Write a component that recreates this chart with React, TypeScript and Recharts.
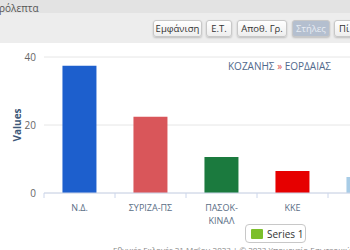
import React from 'react';
import { BarChart, Bar, XAxis, YAxis, CartesianGrid, Cell } from 'recharts';

// party results, Εορδαία
const parties = ['Ν.Δ.', 'ΣΥΡΙΖΑ-ΠΣ', 'ΠΑΣΟΚ-ΚΙΝΑΛ', 'ΚΚΕ', 'ΝΙΚΗ'];
const percents = [37.4, 22.4, 10.6, 6.5, 4.7];
const barColors = ['#1d5fcd', '#d9565a', '#1b7a3e', '#e60000', '#a8cce6'];
const yTicks = [0, 20, 40];
const buttons = ['Εμφάνιση', 'Ε.Τ.', 'Αποθ. Γρ.', 'Στήλες', 'Πί'];

const data = parties.map((name, i) => ({ name, value: percents[i] }));

const FONT = '"Open Sans", "DejaVu Sans", sans-serif';
const buttonLefts = [153, 206, 237, 292, 334];
const buttonWidths = [49, 26, 50, 38, 30];

const PartyTick = (props: any) => {
    const { x, y, payload } = props;
    const label: string = payload.value;
    const lines = label.length > 9 && label.includes('-')
        ? [label.slice(0, label.indexOf('-') + 1), label.slice(label.indexOf('-') + 1)]
        : [label];
    const half = payload.offset || 0;
    return (
        <g>
            <line x1={x - half} x2={x - half} y1={y - 8} y2={y - 3} stroke="#ccd6eb" />
            <text x={x} y={y} textAnchor="middle" fill="#5a6e86" fontSize={9} fontFamily={FONT}>
                {lines.map((l, i) => (
                    <tspan key={i} x={x} dy={i === 0 ? 10 : 13}>{l}</tspan>
                ))}
            </text>
        </g>
    );
};

const ValuesLabel = (props: any) => {
    const vb = props.viewBox || { x: 0, y: 0, height: 0 };
    const cx = vb.x + 17;
    const cy = vb.y + vb.height / 2;
    return (
        <text x={cx} y={cy} transform={`rotate(-90, ${cx}, ${cy})`} textAnchor="middle"
            dominantBaseline="central" fill="#3e5878" fontSize={10} fontWeight="bold" fontFamily={FONT}>
            Values
        </text>
    );
};

const App: React.FC = () => {
    return (
        <div style={{ position: 'absolute', left: 0, top: 0, width: 350, height: 250, overflow: 'hidden', background: '#fff', fontFamily: FONT }}>
            <div style={{ position: 'absolute', left: 0, top: 0, width: 350, height: 13, background: '#e3e3e3' }} />
            <div style={{ position: 'absolute', left: 0, top: 13, width: 350, height: 30, background: '#ededed' }} />
            <div style={{ position: 'absolute', left: -1, top: 1, fontSize: 10, color: '#555' }}>ρόλεπτα</div>
            {buttons.map((b, i) => (
                <div key={b} style={{
                    position: 'absolute', left: buttonLefts[i], top: 20, width: buttonWidths[i], height: 17,
                    boxSizing: 'border-box', border: '1px solid #c8c8c8', borderRadius: 3,
                    background: i === 3 ? '#b4bfcf' : 'linear-gradient(#ffffff, #eeeeee)',
                    boxShadow: '0 1px 2px rgba(0,0,0,0.2)', fontSize: 9.5, lineHeight: '15px', textAlign: i === 4 ? 'left' : 'center',
                    paddingLeft: i === 4 ? 4 : 0,
                    color: i === 3 ? '#e8edf4' : '#333', whiteSpace: 'nowrap', overflow: 'hidden',
                }}>{b}</div>
            ))}

            <div style={{ position: 'absolute', left: 0, top: 42 }}>
                <BarChart width={404} height={193} data={data} margin={{ top: 15, right: 5, left: 0, bottom: 0 }}
                    barCategoryGap="26%">
                    <CartesianGrid vertical={false} stroke="#e6e6e6" />
                    <XAxis dataKey="name" height={42} interval={0} tickLine={false} tick={<PartyTick />}
                        axisLine={{ stroke: '#ccd6eb' }} />
                    <YAxis width={44} domain={[0, 40]} ticks={yTicks} axisLine={false} tickLine={false}
                        tick={{ fill: '#666', fontSize: 10, fontFamily: FONT }} label={<ValuesLabel />} />
                    <Bar dataKey="value" isAnimationActive={false}>
                        {data.map((d, i) => (
                            <Cell key={d.name} fill={barColors[i]} />
                        ))}
                    </Bar>
                </BarChart>
            </div>

            <div style={{ position: 'absolute', left: 228, top: 59, fontSize: 10, color: '#51698c', whiteSpace: 'nowrap' }}>
                ΚΟΖΑΝΗΣ <span style={{ color: '#d9534f' }}>»</span> ΕΟΡΔΑΙΑΣ
            </div>

            <div style={{
                position: 'absolute', left: 245, top: 224, width: 61, height: 19, boxSizing: 'border-box',
                border: '1px solid #c8c8c8', borderRadius: 4, background: '#fff', display: 'flex', alignItems: 'center',
                whiteSpace: 'nowrap',
            }}>
                <span style={{ display: 'inline-block', width: 12, height: 10, background: '#7cbf2a', marginLeft: 5, borderRadius: 1, flexShrink: 0 }} />
                <span style={{ fontSize: 10, color: '#333', marginLeft: 4 }}>Series 1</span>
            </div>

            <div style={{ position: 'absolute', left: 113, top: 245, fontSize: 8, lineHeight: '10px', color: '#888', whiteSpace: 'nowrap' }}>
                Εθνικές Εκλογές 21 Μαΐου 2023 | © 2023 Υπουργείο Εσωτερικών - Μηχανογραφική
            </div>
        </div>
    );
};

export default App;
